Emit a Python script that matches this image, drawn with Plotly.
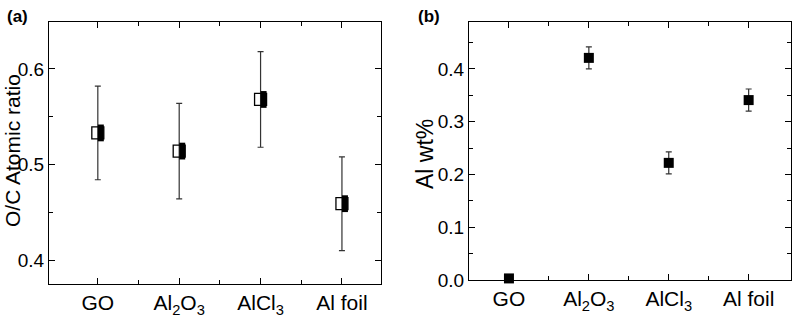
import plotly.graph_objects as go

categories = ["GO", "Al<sub>2</sub>O<sub>3</sub>", "AlCl<sub>3</sub>", "Al foil"]
x_pos = [0, 1, 2, 3]
oc_ratio = [0.533, 0.514, 0.568, 0.459]
oc_err = [0.049, 0.050, 0.050, 0.049]
al_wt = [0.003, 0.421, 0.222, 0.341]
al_err = [0.001, 0.021, 0.021, 0.021]

W, H = 799, 320
FONT = "Liberation Sans, Arial, sans-serif"

fig = go.Figure()

# Panel (a): open square with right half filled
fig.add_trace(go.Scatter(
    x=x_pos, y=oc_ratio, mode="markers",
    error_y=dict(type="data", array=oc_err, visible=True, color="#333333", thickness=1.2, width=3),
    marker=dict(symbol="square-open", size=12, color="black", line=dict(width=1.3)),
    xaxis="x", yaxis="y", showlegend=False))
fig.add_trace(go.Scatter(
    x=[v + 0.037 for v in x_pos], y=oc_ratio, mode="markers",
    marker=dict(symbol="line-ns", size=12, color="black", line=dict(width=6, color="black")),
    xaxis="x", yaxis="y", showlegend=False))

# Panel (b)
fig.add_trace(go.Scatter(
    x=x_pos, y=al_wt, mode="markers",
    error_y=dict(type="data", array=al_err, visible=True, color="#333333", thickness=1.2, width=3),
    marker=dict(symbol="square", size=10, color="black"),
    xaxis="x2", yaxis="y2", showlegend=False, cliponaxis=False))

common = dict(showline=True, linecolor="black", linewidth=1, mirror="ticks",
              ticks="inside", ticklen=6, tickwidth=1, tickcolor="black",
              showgrid=False, zeroline=False, automargin=False)
xfont = dict(family=FONT, size=21, color="black")
yfont = dict(family=FONT, size=19, color="black")
minor_style = dict(ticks="inside", ticklen=4, tickcolor="black", tickwidth=1)

fig.update_layout(
    width=W, height=H, margin=dict(l=0, r=0, t=0, b=0),
    paper_bgcolor="white", plot_bgcolor="white",
    xaxis=dict(domain=[49 / W, 381 / W], range=[-0.6, 3.48], anchor="y",
               tickvals=x_pos, ticktext=categories, tickfont=xfont,
               minor=dict(tickvals=[0.5, 1.5, 2.5], **minor_style),
               **common),
    yaxis=dict(domain=[1 - 284 / H, 1 - 22 / H], range=[0.375, 0.649], anchor="x",
               tickvals=[0.4, 0.5, 0.6], ticktext=["0.4", "0.5", "0.6"], tickfont=yfont,
               minor=dict(tickvals=[0.45, 0.55], **minor_style),
               **common),
    xaxis2=dict(domain=[469 / W, 791 / W], range=[-0.5, 3.53], anchor="y2",
                tickvals=x_pos, ticktext=categories, tickfont=xfont,
                minor=dict(tickvals=[0.5, 1.5, 2.5], **minor_style),
                **common),
    yaxis2=dict(domain=[1 - 280 / H, 1 - 22 / H], range=[0, 0.489], anchor="x2",
                tickvals=[0, 0.1, 0.2, 0.3, 0.4], ticktext=["0.0", "0.1", "0.2", "0.3", "0.4"],
                tickfont=yfont,
                minor=dict(tickvals=[0.05, 0.15, 0.25, 0.35, 0.45], **minor_style),
                **common),
    annotations=[
        dict(text="<b>(a)</b>", x=5 / W, y=1 - 5 / H, xref="paper", yref="paper",
             xanchor="left", yanchor="top", showarrow=False,
             font=dict(family=FONT, size=17, color="black")),
        dict(text="<b>(b)</b>", x=416 / W, y=1 - 5 / H, xref="paper", yref="paper",
             xanchor="left", yanchor="top", showarrow=False,
             font=dict(family=FONT, size=17, color="black")),
        dict(text="O/C Atomic ratio", x=12 / W, y=1 - 151 / H, xref="paper", yref="paper",
             xanchor="center", yanchor="middle", textangle=-90, showarrow=False,
             font=dict(family=FONT, size=21, color="black")),
        dict(text="Al wt%", x=425 / W, y=1 - 154 / H, xref="paper", yref="paper",
             xanchor="center", yanchor="middle", textangle=-90, showarrow=False,
             font=dict(family=FONT, size=23, color="black")),
    ],
)

fig.write_html("out.html", config={"displayModeBar": False},
               post_script="document.body.style.margin='0';document.body.style.overflow='hidden';")
